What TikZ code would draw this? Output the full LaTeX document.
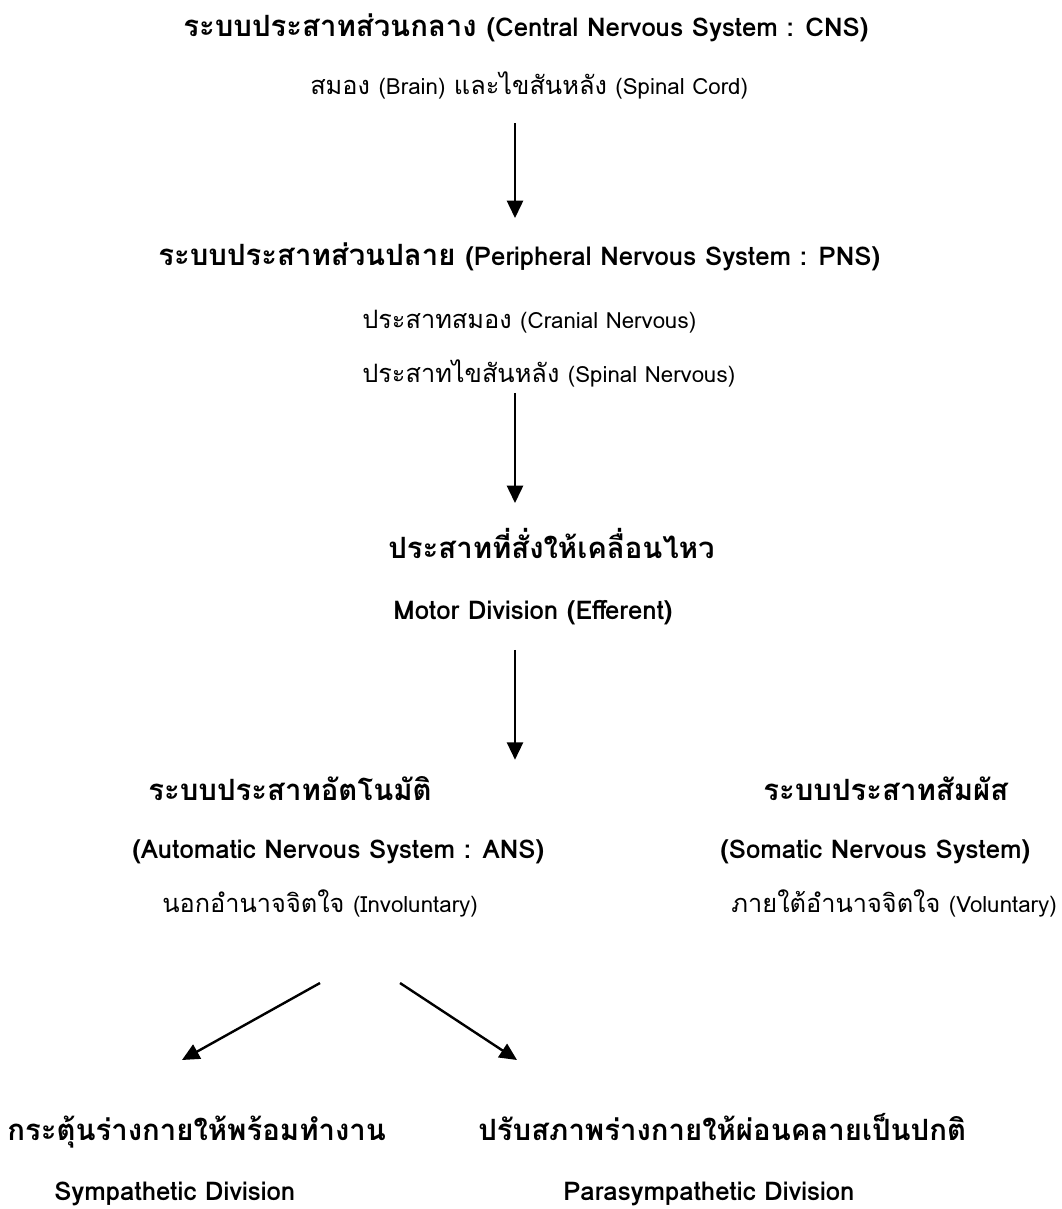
\documentclass[tikz,border=0pt]{standalone}
\usepackage{fontspec}
\setmainfont[Script=Thai]{Loma}
\newfontfamily\latin{Loma}[Scale=0.88]
\usetikzlibrary{arrows.meta}

\def\spine{515}
\def\boldsize{\fontsize{22}{26}\selectfont}
\def\lightsize{\fontsize{19}{23}\selectfont}

\begin{document}
\begin{tikzpicture}[x=0.75pt,y=-0.75pt,
    title/.style={font=\boldsize\bfseries,inner sep=0pt,text height=14pt,text depth=5pt,anchor=west},
    note/.style={font=\lightsize,inner sep=0pt,text height=14pt,text depth=5pt,anchor=west},
    link/.style={-{Triangle[length=13pt,width=12pt]},line width=1.8pt},
]
\useasboundingbox (0,0) rectangle (1062,1209);
\coordinate (spine) at (\spine,0);

\node[title] (cns) at (183,31) {ระบบประสาทส่วนกลาง {\latin (Central Nervous System : CNS)}};
\node[note] (cnsbody) at (310,89) {สมอง {\latin (Brain)} และไขสันหลัง {\latin (Spinal Cord)}};

\node[title] (pns) at (158,259) {ระบบประสาทส่วนปลาย {\latin (Peripheral Nervous System : PNS)}};
\node[note] (cranial) at (362,322) {ประสาทสมอง {\latin (Cranial Nervous)}};
\node[note] (spinal) at (362,376) {ประสาทไขสันหลัง {\latin (Spinal Nervous)}};

\node[title] (motor) at (388,552) {ประสาทที่สั่งให้เคลื่อนไหว};
\node[title] (efferent) at (393,613) {\latin Motor Division (Efferent)};

\node[title] (ans) at (148,794) {ระบบประสาทอัตโนมัติ};
\node[title] (ansname) at (132,852) {\latin (Automatic Nervous System : ANS)};
\node[note] (invol) at (162,906) {นอกอำนาจจิตใจ {\latin (Involuntary)}};

\node[title] (sns) at (763,794) {ระบบประสาทสัมผัส};
\node[title] (snsname) at (720,852) {\latin (Somatic Nervous System)};
\node[note,anchor=east] (vol) at (1057,906) {ภายใต้อำนาจจิตใจ {\latin (Voluntary)}};

\node[title] (symp) at (7,1134) {กระตุ้นร่างกายให้พร้อมทำงาน};
\node[title] (sympname) at (54,1194) {\latin Sympathetic Division};
\node[title] (para) at (478,1134) {ปรับสภาพร่างกายให้ผ่อนคลายเป็นปกติ};
\node[title] (paraname) at (563,1194) {\latin Parasympathetic Division};

\draw[link,shorten <=16pt,shorten >=21pt] (cnsbody.south -| spine) -- (pns.north -| spine);
\draw[link,shorten <=3pt,shorten >=27pt] (spinal.south -| spine) -- (motor.north -| spine);
\draw[link,shorten <=18pt,shorten >=16pt] (efferent.south -| spine) -- (ans.north -| spine);

\coordinate (forkL) at (320,983);
\coordinate (forkR) at (400,983);
\coordinate (tipL) at (182,1060);
\coordinate (tipR) at (517,1060);
\draw[link] (forkL) -- (tipL);
\draw[link] (forkR) -- (tipR);

\end{tikzpicture}
\end{document}
